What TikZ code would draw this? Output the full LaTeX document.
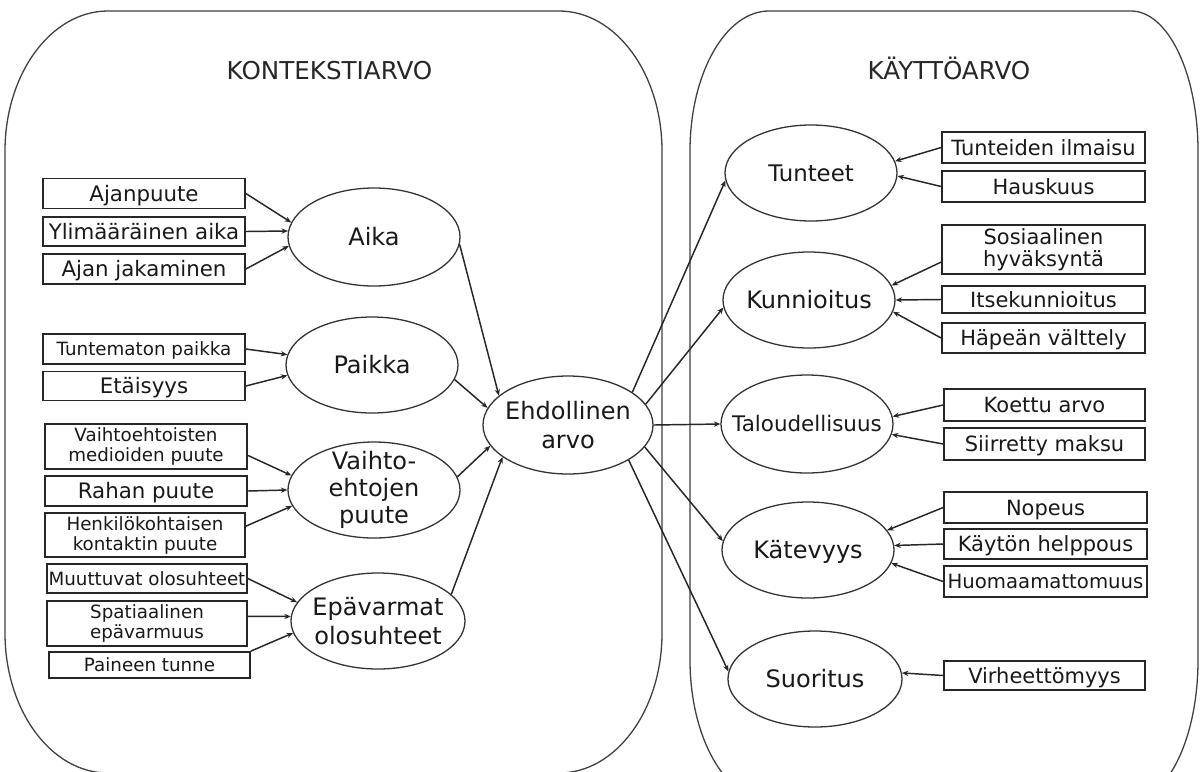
\documentclass[tikz,border=0pt]{standalone}
\usepackage{fontspec}
\setmainfont{DejaVu Sans}
\usetikzlibrary{shapes.geometric,arrows.meta}
% one drawing unit, expressed in points, for node sizes
\def\pxu{0.8536pt}

\begin{document}
\begin{tikzpicture}[x=0.03cm,y=-0.03cm,
  panel/.style={draw=black!75,line width=1.1pt},
  title/.style={text=black!85,font=\fontsize{21}{23}\selectfont,inner sep=0pt,anchor=base},
  box/.style 2 args={draw=black!85,line width=1.5pt,rectangle,inner sep=0pt,
     minimum width=#1*\pxu,minimum height=#2*\pxu,text=black!90,align=center},
  % single lines: fixed height and depth so that capitals sit centred
  oneline/.style 2 args={text height=#1pt,text depth=#2pt},
  oval/.style 2 args={draw=black!80,line width=1.1pt,ellipse,inner sep=0pt,
     minimum width=#1*\pxu,minimum height=#2*\pxu},
  ovaltext/.style={text=black!90,align=center,inner sep=0pt,font=\fontsize{20.5}{25.5}\selectfont},
  ovalone/.style={ovaltext,oneline={19.1}{4.1}},
  big/.style={font=\fontsize{18.2}{19.5}\selectfont},
  bigone/.style={big,oneline={16.9}{3.6}},
  small/.style={font=\fontsize{15.6}{17}\selectfont},
  smallone/.style={small,oneline={14.5}{3.1}},
  rbig/.style={font=\fontsize{17.9}{19}\selectfont},
  rbigone/.style={rbig,oneline={16.6}{3.6}},
  arr/.style={draw=black!85,line width=1.25pt,-{Stealth[length=5.5pt,width=4.5pt]}},
]
\useasboundingbox (0,0) rectangle (1202,771);
\fill[white] (0,0) rectangle (1202,771);
\clip (0,0) rectangle (1202,771);

% the two value panels with elliptic corners
\path[panel] (108,11) -- (559,11) .. controls (615.9,11) and (662,73.7) .. (662,151)
  -- (662,633) .. controls (662,710.3) and (615.9,773) .. (559,773)
  -- (108,773) .. controls (51.1,773) and (5,710.3) .. (5,633)
  -- (5,151) .. controls (5,73.7) and (51.1,11) .. (108,11) -- cycle;
\path[panel] (769,11) -- (1131,11) .. controls (1168,11) and (1198,73.7) .. (1198,151)
  -- (1198,660) .. controls (1198,737.3) and (1168,800) .. (1131,800)
  -- (769,800) .. controls (725.4,800) and (690,737.3) .. (690,660)
  -- (690,151) .. controls (690,73.7) and (725.4,11) .. (769,11) -- cycle;

\node[title] (kontekstiarvo) at (329.5,79) {KONTEKSTIARVO};
\node[title] (kayttoarvo) at (949,79) {KÄYTTÖARVO};

% context factors
\node[box={202}{30},bigone] (ajanpuute) at (144,193.5) {Ajanpuute};
\node[box={202}{29},bigone] (ylimaar) at (144,231.5) {Ylimääräinen aika};
\node[box={202}{30},bigone] (jakaminen) at (144,269) {Ajan jakaminen};
\node[box={202}{30},smallone] (tuntematon) at (144,349) {Tuntematon paikka};
\node[box={202}{29},bigone] (etaisyys) at (144,386) {Etäisyys};
\node[box={202}{45},small] (medioiden) at (146,446.5) {Vaihtoehtoisten\\medioiden puute};
\node[box={202}{30},bigone] (rahan) at (146,491) {Rahan puute};
\node[box={200}{44},small] (kontaktin) at (145,535) {Henkilökohtaisen\\kontaktin puute};
\node[box={200}{29},smallone] (muuttuvat) at (147,578.5) {Muuttuvat olosuhteet};
\node[box={200}{45},small] (spatiaal) at (147,623.5) {Spatiaalinen\\epävarmuus};
\node[box={201}{26},smallone] (paineen) at (149.5,665) {Paineen tunne};

% context dimensions
\node[oval={172}{98}] (aika) at (374,237) {};
\node[ovalone] (aika-t) at (aika) {Aika};
\node[oval={172}{96}] (paikka) at (372,365) {};
\node[ovalone] (paikka-t) at (paikka) {Paikka};
\node[oval={172}{96}] (vaihto) at (374,490) {};
\node[ovaltext,font=\fontsize{20.5}{23}\selectfont] (vaihto-t) at (vaihto) {Vaihto-\\ehtojen\\puute};
\node[oval={174}{96}] (epav) at (378,621) {};
\node[ovaltext] (epav-t) at (epav) {Epävarmat\\olosuhteet};

% conditional value
\node[oval={170}{98}] (ehd) at (568,425) {};
\node[ovaltext] (ehd-t) at (ehd) {Ehdollinen\\arvo};

% use value dimensions
\node[oval={172}{96}] (tunteet) at (811,173) {};
\node[ovaltext,oneline={18.1}{3.9},font=\fontsize{19.5}{22}\selectfont] (tunteet-t) at (tunteet) {Tunteet};
\node[oval={172}{96}] (kunn) at (809,300) {};
\node[ovalone] (kunn-t) at (kunn) {Kunnioitus};
\node[oval={172}{98}] (talous) at (807,424) {};
\node[ovaltext,oneline={17.0}{3.7},font=\fontsize{18.3}{20}\selectfont] (talous-t) at (talous) {Taloudellisuus};
\node[oval={172}{96}] (katev) at (808,550) {};
\node[ovalone] (katev-t) at (katev) {Kätevyys};
\node[oval={174}{96}] (suor) at (815,679) {};
\node[ovalone] (suor-t) at (suor) {Suoritus};

% use value factors
\node[box={203}{31},rbigone] (ilmaisu) at (1043.5,147.5) {Tunteiden ilmaisu};
\node[box={203}{31},rbigone] (hauskuus) at (1043.5,186.5) {Hauskuus};
\node[box={203}{49},rbig] (hyvaksynta) at (1043.5,249.5) {Sosiaalinen\\hyväksyntä};
\node[box={203}{27},rbigone] (itsekun) at (1043.5,299.5) {Itsekunnioitus};
\node[box={203}{30},rbigone] (hapean) at (1043.5,338) {Häpeän välttely};
\node[box={201}{32},rbigone] (koettu) at (1044.5,405) {Koettu arvo};
\node[box={201}{32},rbigone] (maksu) at (1044.5,444) {Siirretty maksu};
\node[box={203}{31},rbigone] (nopeus) at (1045.5,507.5) {Nopeus};
\node[box={203}{30},rbigone] (helppous) at (1045.5,544) {Käytön helppous};
\node[box={203}{31},oneline={15.6}{3.4},font=\fontsize{16.8}{18}\selectfont] (huomaam) at (1045.5,581.5) {Huomaamattomuus};
\node[box={201}{29},rbigone] (virheet) at (1044.5,675.5) {Virheettömyys};

% factors into context dimensions
\draw[arr] (ajanpuute.east) -- (aika.170);
\draw[arr] (ylimaar.east) -- (aika.176);
\draw[arr] (jakaminen.east) -- (aika.186);
\draw[arr] (tuntematon.east) -- (paikka.173);
\draw[arr] (etaisyys.east) -- (paikka.187);
\draw[arr] (medioiden.-5) -- (vaihto.170);
\draw[arr] (rahan.east) -- (vaihto.180);
\draw[arr] (kontaktin.5) -- (vaihto.191);
\draw[arr] (muuttuvat.east) -- (epav.167);
\draw[arr] (spatiaal.4) -- (epav.177);
\draw[arr] (paineen.north east) -- (epav.188);

% context dimensions into conditional value
\draw[arr] (aika.-5) -- (ehd.157);
\draw[arr] (paikka.-10) -- (ehd.168);
\draw[arr] (vaihto.9) -- (ehd.195);
\draw[arr] (epav.20) -- (ehd.206);

% conditional value into use value dimensions
\draw[arr] (ehd.27) -- (tunteet.185);
\draw[arr] (ehd.15) -- (kunn.185);
\draw[arr] (ehd.0) -- (talous.180);
\draw[arr] (ehd.-16) -- (katev.174);
\draw[arr] (ehd.-30) -- (suor.175);

% factors into use value dimensions
\draw[arr] (ilmaisu.west) -- (tunteet.8);
\draw[arr] (hauskuus.west) -- (tunteet.-2);
\draw[arr] (hyvaksynta.187) -- (kunn.10);
\draw[arr] (itsekun.west) -- (kunn.0);
\draw[arr] (hapean.west) -- (kunn.-8);
\draw[arr] (koettu.west) -- (talous.5);
\draw[arr] (maksu.west) -- (talous.-7);
\draw[arr] (nopeus.west) -- (katev.14);
\draw[arr] (helppous.west) -- (katev.3);
\draw[arr] (huomaam.west) -- (katev.-9);
\draw[arr] (virheet.west) -- (suor.4);
\end{tikzpicture}
\end{document}
